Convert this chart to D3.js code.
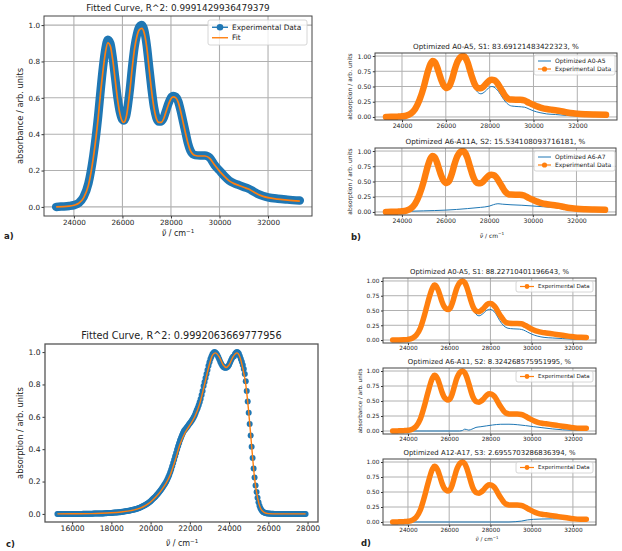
<!DOCTYPE html>
<html>
<head>
<meta charset="utf-8">
<script src="https://cdn.jsdelivr.net/npm/d3@7"></script>
<style>
  body { margin: 0; background: #fff; }
  text { font-family: "DejaVu Sans", sans-serif; fill: #222; }
</style>
</head>
<body>
<div id="chart"></div>
<script>
// panel a / b : experimental spectrum
const expAX = [23270, 23500, 23800, 24000, 24200, 24400, 24600, 24800, 25000, 25100, 25200, 25300, 25400, 25500, 25600, 25700, 25800, 25900, 26000, 26060, 26150, 26300, 26400, 26500, 26600, 26700, 26800, 26900, 27000, 27100, 27200, 27300, 27400, 27500, 27600, 27700, 27800, 27900, 28000, 28100, 28200, 28300, 28400, 28500, 28600, 28700, 28800, 28900, 29000, 29200, 29400, 29600, 29800, 30000, 30200, 30400, 30600, 30800, 31000, 31200, 31400, 31600, 31800, 32000, 32400, 32800, 33310];
const expAY = [0.000, 0.002, 0.005, 0.010, 0.022, 0.055, 0.13, 0.28, 0.50, 0.64, 0.77, 0.87, 0.92, 0.90, 0.82, 0.71, 0.60, 0.52, 0.48, 0.475, 0.50, 0.64, 0.77, 0.88, 0.95, 0.99, 1.00, 0.97, 0.89, 0.77, 0.65, 0.55, 0.49, 0.47, 0.47, 0.49, 0.53, 0.57, 0.60, 0.61, 0.605, 0.58, 0.53, 0.47, 0.41, 0.35, 0.31, 0.29, 0.285, 0.283, 0.283, 0.27, 0.23, 0.20, 0.17, 0.145, 0.13, 0.12, 0.11, 0.10, 0.085, 0.07, 0.06, 0.053, 0.045, 0.04, 0.035];

// panel a : fit
const fitAX = [23270, 23800, 24000, 24200, 24400, 24600, 24800, 25000, 25100, 25200, 25300, 25400, 25500, 25600, 25700, 25800, 25900, 26000, 26060, 26150, 26300, 26400, 26500, 26600, 26700, 26800, 26900, 27000, 27100, 27200, 27300, 27400, 27500, 27600, 27700, 27800, 27900, 28000, 28100, 28200, 28300, 28400, 28500, 28600, 28700, 28800, 28900, 29000, 29200, 29400, 29600, 29800, 30000, 30200, 30400, 30600, 30800, 31000, 31200, 31400, 31600, 31800, 32000, 32400, 32800, 33310];
const fitAY = [0, 0.004, 0.009, 0.02, 0.05, 0.12, 0.27, 0.49, 0.63, 0.75, 0.85, 0.903, 0.885, 0.81, 0.70, 0.59, 0.51, 0.47, 0.465, 0.49, 0.63, 0.76, 0.87, 0.94, 0.975, 0.982, 0.955, 0.88, 0.76, 0.64, 0.545, 0.485, 0.465, 0.465, 0.485, 0.525, 0.565, 0.595, 0.605, 0.60, 0.575, 0.525, 0.465, 0.405, 0.35, 0.31, 0.29, 0.283, 0.28, 0.28, 0.267, 0.23, 0.197, 0.168, 0.143, 0.128, 0.118, 0.108, 0.098, 0.083, 0.068, 0.058, 0.051, 0.043, 0.037, 0.032];

// panel b : components
const optB1X = [23270, 24000, 24400, 24800, 25000, 25200, 25400, 25600, 25800, 26000, 26100, 26300, 26500, 26800, 27000, 27200, 27400, 27600, 27800, 28000, 28100, 28200, 28400, 28600, 28800, 29000, 29300, 29600, 29800, 30000, 30300, 30600, 31000, 31500, 32000, 32500, 33310];
const optB1Y = [0, 0.01, 0.05, 0.27, 0.49, 0.76, 0.91, 0.80, 0.56, 0.44, 0.45, 0.60, 0.85, 0.98, 0.86, 0.60, 0.43, 0.38, 0.42, 0.49, 0.50, 0.49, 0.42, 0.31, 0.22, 0.18, 0.17, 0.16, 0.13, 0.10, 0.07, 0.05, 0.04, 0.025, 0.015, 0.01, 0.005];
const optB2X = [23270, 24000, 25000, 26000, 27000, 27600, 28000, 28200, 28400, 28600, 29000, 29500, 30000, 30500, 31000, 31500, 32000, 32600, 33310];
const optB2Y = [0, 0.008, 0.018, 0.03, 0.055, 0.075, 0.095, 0.12, 0.135, 0.128, 0.118, 0.11, 0.098, 0.085, 0.072, 0.06, 0.05, 0.04, 0.035];

// panel c : experimental points, 50 cm-1 apart starting at 15250
const expCStart = 15250, expCStep = 50;
const expCY = [
  0, 0, 0, 0, 0, 0, 0, 0, 0, 0,
  0, 0, 0, 0, 0, 0, 0, 0, 0, 0,
  0, 0, 0, 0, 0, 0, 0.001, 0.001, 0.001, 0.001,
  0.001, 0.001, 0.001, 0.001, 0.001, 0.001, 0.001, 0.002, 0.002, 0.002,
  0.002, 0.002, 0.002, 0.002, 0.003, 0.003, 0.003, 0.003, 0.004, 0.004,
  0.004, 0.005, 0.005, 0.005, 0.006, 0.006, 0.007, 0.007, 0.008, 0.008,
  0.009, 0.009, 0.010, 0.011, 0.011, 0.012, 0.013, 0.014, 0.015, 0.016,
  0.017, 0.018, 0.019, 0.020, 0.021, 0.022, 0.024, 0.025, 0.027, 0.028,
  0.030, 0.032, 0.034, 0.036, 0.038, 0.041, 0.044, 0.047, 0.050, 0.053,
  0.057, 0.061, 0.065, 0.069, 0.074, 0.079, 0.084, 0.090, 0.096, 0.102,
  0.108, 0.115, 0.122, 0.129, 0.137, 0.145, 0.153, 0.162, 0.171, 0.180,
  0.190, 0.201, 0.213, 0.226, 0.241, 0.257, 0.275, 0.294, 0.314, 0.335,
  0.356, 0.377, 0.398, 0.418, 0.437, 0.455, 0.471, 0.486, 0.500, 0.512,
  0.520, 0.528, 0.536, 0.544, 0.552, 0.560, 0.568, 0.577, 0.587, 0.598,
  0.610, 0.625, 0.640, 0.655, 0.672, 0.690, 0.710, 0.735, 0.760, 0.790,
  0.815, 0.840, 0.865, 0.890, 0.915, 0.937, 0.957, 0.973, 0.986, 0.995,
  1.000, 0.998, 0.992, 0.982, 0.969, 0.955, 0.941, 0.928, 0.917, 0.909,
  0.905, 0.903, 0.903, 0.906, 0.912, 0.922, 0.935, 0.949, 0.962, 0.971,
  0.975, 0.988, 0.996, 1.000, 0.998, 0.990, 0.975, 0.958, 0.940, 0.920,
  0.895, 0.865, 0.820, 0.760, 0.695, 0.625, 0.555, 0.485, 0.415, 0.345,
  0.280, 0.225, 0.175, 0.135, 0.100, 0.072, 0.050, 0.035, 0.024, 0.016,
  0.011, 0.008, 0.006, 0.004, 0.003, 0.002, 0.002, 0.001, 0.001, 0.001,
  0.001, 0, 0, 0, 0, 0, 0, 0, 0, 0,
  0, 0, 0, 0, 0, 0, 0, 0, 0, 0,
  0, 0, 0, 0, 0, 0, 0, 0, 0, 0,
  0, 0, 0, 0
];
const expCX = expCY.map((d, i) => expCStart + i * expCStep);

// panel c : fit
const fitCX = [15250, 16000, 17000, 17500, 18000, 18500, 19000, 19500, 19750, 20000, 20250, 20500, 20750, 21000, 21250, 21500, 21750, 22000, 22250, 22500, 22750, 23000, 23150, 23300, 23500, 23700, 23850, 24000, 24200, 24400, 24550, 24700, 24850, 25000, 25150, 25300, 25450, 25600, 25800, 26000, 26500, 27900];
const fitCY = [0, 0.001, 0.002, 0.004, 0.007, 0.012, 0.02, 0.037, 0.053, 0.074, 0.103, 0.138, 0.182, 0.24, 0.33, 0.43, 0.5, 0.548, 0.6, 0.68, 0.8, 0.925, 0.98, 0.995, 0.97, 0.92, 0.905, 0.92, 0.97, 0.995, 0.97, 0.9, 0.8, 0.63, 0.42, 0.22, 0.1, 0.035, 0.008, 0.002, 0, 0];

// panel d : experimental spectrum
const expDX = [23260, 23500, 23800, 24000, 24200, 24400, 24600, 24800, 24900, 25000, 25100, 25200, 25280, 25350, 25450, 25550, 25650, 25750, 25850, 25950, 26050, 26150, 26250, 26350, 26450, 26550, 26650, 26750, 26850, 26950, 27050, 27150, 27250, 27350, 27450, 27550, 27650, 27750, 27850, 27950, 28050, 28150, 28250, 28350, 28450, 28550, 28650, 28750, 28900, 29100, 29300, 29500, 29700, 29900, 30100, 30300, 30500, 30700, 30900, 31100, 31300, 31500, 31700, 31900, 32100, 32400, 32650];
const expDY = [0, 0.002, 0.006, 0.012, 0.03, 0.08, 0.2, 0.42, 0.55, 0.68, 0.8, 0.89, 0.93, 0.92, 0.86, 0.76, 0.65, 0.57, 0.53, 0.515, 0.54, 0.62, 0.74, 0.86, 0.94, 0.985, 1.0, 0.975, 0.9, 0.79, 0.67, 0.57, 0.51, 0.485, 0.48, 0.5, 0.53, 0.57, 0.605, 0.62, 0.615, 0.59, 0.55, 0.49, 0.43, 0.38, 0.33, 0.3, 0.285, 0.282, 0.282, 0.275, 0.245, 0.205, 0.17, 0.145, 0.13, 0.12, 0.11, 0.1, 0.09, 0.08, 0.07, 0.06, 0.052, 0.047, 0.045];

// panel d : components
const optD1X = [23260, 24000, 24400, 24800, 25000, 25200, 25280, 25450, 25650, 25850, 25950, 26050, 26250, 26450, 26650, 26850, 27050, 27250, 27450, 27650, 27850, 27950, 28050, 28250, 28450, 28650, 28850, 29100, 29400, 29600, 29800, 30000, 30300, 30600, 31000, 31500, 32000, 32650];
const optD1Y = [0, 0.012, 0.08, 0.42, 0.68, 0.89, 0.93, 0.86, 0.64, 0.51, 0.5, 0.53, 0.73, 0.93, 0.99, 0.88, 0.62, 0.46, 0.41, 0.45, 0.51, 0.52, 0.515, 0.45, 0.33, 0.24, 0.2, 0.19, 0.185, 0.17, 0.135, 0.1, 0.065, 0.045, 0.035, 0.025, 0.015, 0.01];
const optD2X = [23260, 26500, 26650, 26750, 26850, 26950, 27100, 27300, 27500, 27800, 28100, 28500, 28900, 29300, 29700, 30100, 30500, 31000, 31500, 32000, 32650];
const optD2Y = [0, 0, 0.01, 0.03, 0.025, 0.015, 0.03, 0.06, 0.07, 0.085, 0.1, 0.112, 0.113, 0.105, 0.09, 0.072, 0.055, 0.035, 0.02, 0.012, 0.008];
const optD3X = [23260, 28900, 29200, 29500, 29800, 30100, 30500, 31000, 31500, 32000, 32650];
const optD3Y = [0, 0, 0.005, 0.015, 0.035, 0.045, 0.05, 0.052, 0.053, 0.05, 0.045];

const xTicksAB = [24000, 26000, 28000, 30000, 32000];
const xTicksC = [16000, 18000, 20000, 22000, 24000, 26000, 28000];
const yTicks1 = [0, 0.2, 0.4, 0.6, 0.8, 1.0];
const yTicks2 = [0, 0.25, 0.5, 0.75, 1.0];

const blue = "#1f77b4", orange = "#ff7f0e";
const width = 622, height = 551;

const svg = d3.select("#chart").append("svg")
  .attr("width", width).attr("height", height)
  .attr("viewBox", [0, 0, width, height]);

const zip = (xs, ys) => xs.map((x, i) => [x, ys[i]]);

function padded(xs) {
  const [a, b] = d3.extent(xs);
  const m = (b - a) * 0.05;
  return [a - m, b + m];
}

function panel(o) {
  const g = svg.append("g");
  const x = d3.scaleLinear().domain(padded(o.dataX)).range([o.l, o.r]);
  const y = d3.scaleLinear().domain([-0.05, 1.05]).range([o.b, o.t]);

  if (o.grid) {
    g.append("g").selectAll("line").data(o.xt).join("line")
      .attr("x1", d => x(d)).attr("x2", d => x(d))
      .attr("y1", o.t).attr("y2", o.b)
      .attr("stroke", "#b0b0b0").attr("stroke-width", o.gw || 1);
    g.append("g").selectAll("line").data(o.yt).join("line")
      .attr("y1", d => y(d)).attr("y2", d => y(d))
      .attr("x1", o.l).attr("x2", o.r)
      .attr("stroke", "#b0b0b0").attr("stroke-width", o.gw || 1);
  }

  const clip = "clip" + Math.round(o.l) + "_" + Math.round(o.t);
  svg.append("clipPath").attr("id", clip).append("rect")
    .attr("x", o.l).attr("y", o.t).attr("width", o.r - o.l).attr("height", o.b - o.t);
  const plot = g.append("g").attr("clip-path", `url(#${clip})`);

  const line = d3.line().x(d => x(d[0])).y(d => y(d[1])).curve(d3.curveMonotoneX);
  (o.series || []).forEach(s => {
    plot.append("path").datum(s.data)
      .attr("fill", "none").attr("stroke", s.color)
      .attr("stroke-width", s.w)
      .attr("stroke-linecap", "round").attr("stroke-linejoin", "round")
      .attr("d", line);
  });
  if (o.dots) {
    plot.append("g").selectAll("circle").data(o.dots.data).join("circle")
      .attr("cx", d => x(d[0])).attr("cy", d => y(d[1]))
      .attr("r", o.dots.r).attr("fill", o.dots.color);
  }
  (o.after || []).forEach(s => {
    plot.append("path").datum(s.data)
      .attr("fill", "none").attr("stroke", s.color)
      .attr("stroke-width", s.w).attr("d", line);
  });

  const xa = g.append("g").attr("transform", `translate(0,${o.b})`)
    .call(d3.axisBottom(x).tickValues(o.xt).tickFormat(d3.format("d"))
      .tickSize(o.ts).tickPadding(o.tp).tickSizeOuter(0));
  const ya = g.append("g").attr("transform", `translate(${o.l},0)`)
    .call(d3.axisLeft(y).tickValues(o.yt).tickFormat(d3.format(o.yf))
      .tickSize(o.ts).tickPadding(o.tp + 0.5).tickSizeOuter(0));
  [xa, ya].forEach(a => {
    a.select(".domain").remove();
    a.selectAll("line").attr("stroke", "#333");
    a.selectAll("text").attr("font-size", o.fs).attr("fill", "#222");
    a.attr("font-family", null);
  });

  g.append("rect").attr("x", o.l).attr("y", o.t)
    .attr("width", o.r - o.l).attr("height", o.b - o.t)
    .attr("fill", "none").attr("stroke", o.fc || "#444").attr("stroke-width", o.fw || 1);

  svg.append("text").attr("x", (o.l + o.r) / 2).attr("y", o.t - o.tg)
    .attr("text-anchor", "middle").attr("font-size", o.tfs).text(o.title);

  if (o.ylabel) {
    svg.append("text")
      .attr("transform", `translate(${o.ylx},${(o.t + o.b) / 2}) rotate(-90)`)
      .attr("text-anchor", "middle").attr("dy", "0.35em")
      .attr("font-size", o.lfs).text(o.ylabel);
  }
  return { x, y };
}

// x axis label: tilde-nu / cm^-1
function xlab(cx, cy, size) {
  const t = svg.append("text").attr("x", cx).attr("y", cy)
    .attr("text-anchor", "middle").attr("font-size", size);
  t.append("tspan").attr("font-style", "italic").text("ν\u0303");
  t.append("tspan").text(" / cm");
  t.append("tspan").attr("dy", -size * 0.35).attr("font-size", size * 0.7).text("−1");
}

function legend(x0, y0, w, rows, fs, rowH, swatch) {
  const h = rows.length * rowH + 4;
  svg.append("rect").attr("x", x0).attr("y", y0).attr("width", w).attr("height", h)
    .attr("rx", 2).attr("fill", "#fff").attr("fill-opacity", 0.8)
    .attr("stroke", "#ccc").attr("stroke-width", 0.8);
  rows.forEach((r, i) => {
    const cy = y0 + 2 + rowH * (i + 0.5);
    svg.append("line").attr("x1", x0 + 4).attr("x2", x0 + 4 + swatch)
      .attr("y1", cy).attr("y2", cy).attr("stroke", r.color).attr("stroke-width", r.lw);
    if (r.dot) {
      svg.append("circle").attr("cx", x0 + 4 + swatch / 2).attr("cy", cy)
        .attr("r", r.dot).attr("fill", r.color);
    }
    svg.append("text").attr("x", x0 + 8 + swatch).attr("y", cy).attr("dy", "0.35em")
      .attr("font-size", fs).text(r.label);
  });
}

function tag(x, y, s) {
  svg.append("text").attr("x", x).attr("y", y).attr("font-size", 8.5)
    .attr("font-weight", "bold").attr("font-family", "Liberation Sans, Arial, sans-serif").text(s);
}

// ---- a)
panel({
  l: 44, r: 312, t: 16, b: 216, dataX: expAX, xt: xTicksAB, yt: yTicks1, yf: ".1f",
  grid: true, gw: 1.1, ts: 2.5, tp: 1, fs: 7.2, tfs: 8.9, tg: 5,
  title: "Fitted Curve, R^2: 0.9991429936479379",
  ylabel: "absorbance / arb. units", ylx: 20, lfs: 8.3,
  series: [{ data: zip(expAX, expAY), color: blue, w: 8.5 }],
  after: [{ data: zip(fitAX, fitAY), color: orange, w: 1.7 }]
});
legend(208, 20, 99, [
  { label: "Experimental Data", color: blue, lw: 1.4, dot: 3.3 },
  { label: "Fit", color: orange, lw: 1.4 }
], 7.4, 10.5, 16);
xlab(178, 236, 8);
tag(4, 239, "a)");

// ---- b)
panel({
  l: 375, r: 617, t: 53, b: 120, dataX: expAX, xt: xTicksAB, yt: yTicks2, yf: ".2f",
  grid: true, ts: 2.2, tp: 1, fs: 6.2, tfs: 7.2, tg: 4,
  title: "Optimized A0-A5, S1: 83.69121483422323, %",
  ylabel: "absorption / arb. units", ylx: 350, lfs: 6,
  series: [
    { data: zip(optB1X, optB1Y), color: blue, w: 1 },
    { data: zip(expAX, expAY), color: orange, w: 6.5 }
  ]
});
legend(534, 55, 81, [
  { label: "Optimized A0-A5", color: blue, lw: 1 },
  { label: "Experimental Data", color: orange, lw: 1.2, dot: 2.6 }
], 6, 8, 13);

panel({
  l: 375, r: 616, t: 148, b: 215, dataX: expAX, xt: xTicksAB, yt: yTicks2, yf: ".2f",
  grid: true, ts: 2.2, tp: 1, fs: 6.2, tfs: 7.2, tg: 4,
  title: "Optimized A6-A11A, S2: 15.534108093716181, %",
  ylabel: "absorption / arb. units", ylx: 350, lfs: 6,
  series: [
    { data: zip(optB2X, optB2Y), color: blue, w: 1 },
    { data: zip(expAX, expAY), color: orange, w: 6.5 }
  ]
});
legend(534, 151, 81, [
  { label: "Optimized A6-A7", color: blue, lw: 1 },
  { label: "Experimental Data", color: orange, lw: 1.2, dot: 2.6 }
], 6, 8, 13);
xlab(492, 237.5, 6);
tag(351, 240, "b)");

// ---- c)
panel({
  l: 45, r: 318, t: 344, b: 522, dataX: expCX, xt: xTicksC, yt: yTicks1, yf: ".1f",
  grid: false, ts: 2.5, tp: 1.5, fs: 7.6, tfs: 9.7, tg: 5, fc: "#555", fw: 1.3,
  title: "Fitted Curve, R^2: 0.9992063669777956",
  ylabel: "absorption / arb. units", ylx: 20, lfs: 8.3,
  dots: { data: zip(expCX, expCY), r: 3, color: blue },
  after: [{ data: zip(fitCX, fitCY), color: orange, w: 1.4 }]
});
xlab(182, 546, 8);
tag(6, 547, "c)");

// ---- d)
const dPanels = [
  { t: 278, b: 343, title: "Optimized A0-A5, S1: 88.22710401196643, %", xs: optD1X, ys: optD1Y },
  { t: 368, b: 434, title: "Optimized A6-A11, S2: 8.324268575951995, %", xs: optD2X, ys: optD2Y, ylabel: "absorbance / arb. units" },
  { t: 459, b: 525, title: "Optimized A12-A17, S3: 2.6955703286836394, %", xs: optD3X, ys: optD3Y }
];
dPanels.forEach(p => {
  panel({
    l: 383, r: 596, t: p.t, b: p.b, dataX: expDX, xt: xTicksAB, yt: yTicks2, yf: ".2f",
    grid: true, ts: 2, tp: 1, fs: 5.8, tfs: 6.9, tg: 4,
    title: p.title, ylabel: p.ylabel, ylx: 360, lfs: 5.6,
    series: [
      { data: zip(p.xs, p.ys), color: blue, w: 1 },
      { data: zip(expDX, expDY), color: orange, w: 5.5 }
    ]
  });
  legend(516, p.t + 3, 77, [
    { label: "Experimental Data", color: orange, lw: 1.2, dot: 2.4 }
  ], 5.5, 7, 14);
});
xlab(487, 540.5, 5.6);
tag(361, 546, "d)");
</script>
</body>
</html>
